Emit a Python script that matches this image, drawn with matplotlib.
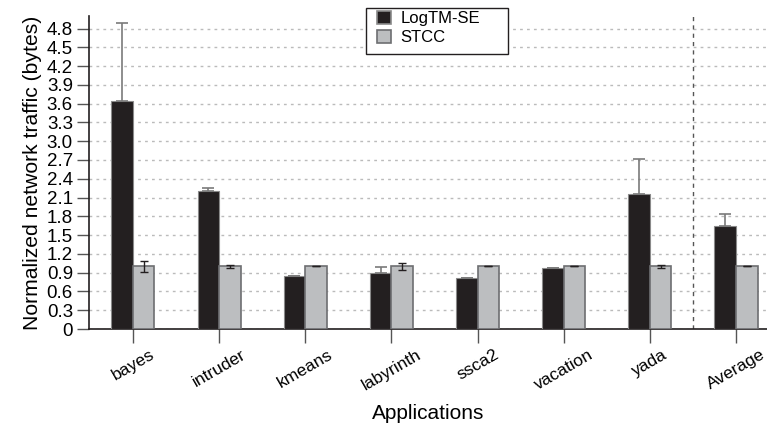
import matplotlib.pyplot as plt
from matplotlib.patches import Rectangle
import numpy as np

plt.rcParams['font.family'] = ['Liberation Sans', 'DejaVu Sans']

apps = ['bayes', 'intruder', 'kmeans', 'labyrinth', 'ssca2', 'vacation', 'yada', 'Average']
logtm = [3.65, 2.21, 0.85, 0.90, 0.82, 0.975, 2.155, 1.65]
logtm_err = [1.24, 0.05, 0.0, 0.09, 0.0, 0.0, 0.56, 0.195]
stcc = [1.0, 1.0, 1.0, 1.0, 1.0, 1.0, 1.0, 1.0]
stcc_err = [0.085, 0.02, 0.0, 0.05, 0.0, 0.0, 0.02, 0.0]
yticks = [0, 0.3, 0.6, 0.9, 1.2, 1.5, 1.8, 2.1, 2.4, 2.7, 3.0, 3.3, 3.6, 3.9, 4.2, 4.5, 4.8]

W, H = 767, 432
fig = plt.figure(figsize=(W / 100, H / 100), dpi=100)
ax = fig.add_axes([89 / W, 103 / H, (W - 89) / W, 313 / H])

x = np.arange(len(apps))
w = 0.25

ax.bar(x - w / 2, logtm, w, color='#231f20', edgecolor='#8a8a8a', linewidth=0.8,
       label='LogTM-SE', zorder=3)
ax.errorbar(x - w / 2, logtm, yerr=[np.zeros(len(apps)), logtm_err], fmt='none',
            ecolor='#7a7a7a', elinewidth=1.2, capsize=4, capthick=1.2, zorder=4)
ax.bar(x + w / 2, stcc, w, color='#bcbec0', edgecolor='#6d6e71', linewidth=1.2,
       label='STCC', zorder=3)
ax.errorbar(x + w / 2, stcc, yerr=stcc_err, fmt='none', ecolor='#231f20',
            elinewidth=1, capsize=3, capthick=1, zorder=4)

# separator before the average group
ax.axvline(6.5, color='#555555', linestyle=(0, (3, 3)), linewidth=1, zorder=2)

ax.set_xlim(-0.51, 7.36)
ax.set_ylim(0, 5.0)
ax.set_yticks(yticks)
ax.set_yticklabels(['0'] + ['%.1f' % v for v in yticks[1:]], fontsize=13.5)
ax.set_xticks(x)
ax.set_xticklabels(apps, rotation=30, fontsize=12.5, ha='center')
ax.tick_params(axis='y', length=8.6, width=1, color='#555555', pad=3)
ax.tick_params(axis='x', length=9.9, width=1, color='#555555', pad=3)
ax.yaxis.grid(True, color='#bbbbbb', linestyle=(0, (2, 3)), linewidth=1, zorder=0)
ax.set_axisbelow(True)

for s in ['top', 'right']:
    ax.spines[s].set_visible(False)
for s in ['left', 'bottom']:
    ax.spines[s].set_color('#231f20')
    ax.spines[s].set_linewidth(1.2)

ax.set_ylabel('Normalized network traffic (bytes)', fontsize=15.2, labelpad=3)
ax.set_xlabel('Applications', fontsize=15, labelpad=8)

# legend entries without frame, box drawn separately (wider on the right)
leg = fig.legend(loc='upper left', bbox_to_anchor=(377 / W, 1 - 11 / H),
                 fontsize=12, frameon=False, handlelength=0.85,
                 handleheight=0.85, borderpad=0, labelspacing=0.22,
                 handletextpad=0.55, borderaxespad=0)
for h in leg.legend_handles:
    h.set_linewidth(1.2)
fig.patches.append(Rectangle((366 / W, 1 - 54 / H), 142 / W, 46 / H,
                             transform=fig.transFigure, facecolor='white',
                             edgecolor='#231f20', linewidth=1, zorder=5))
leg.set_zorder(6)

fig.savefig('out.png', dpi=100)
